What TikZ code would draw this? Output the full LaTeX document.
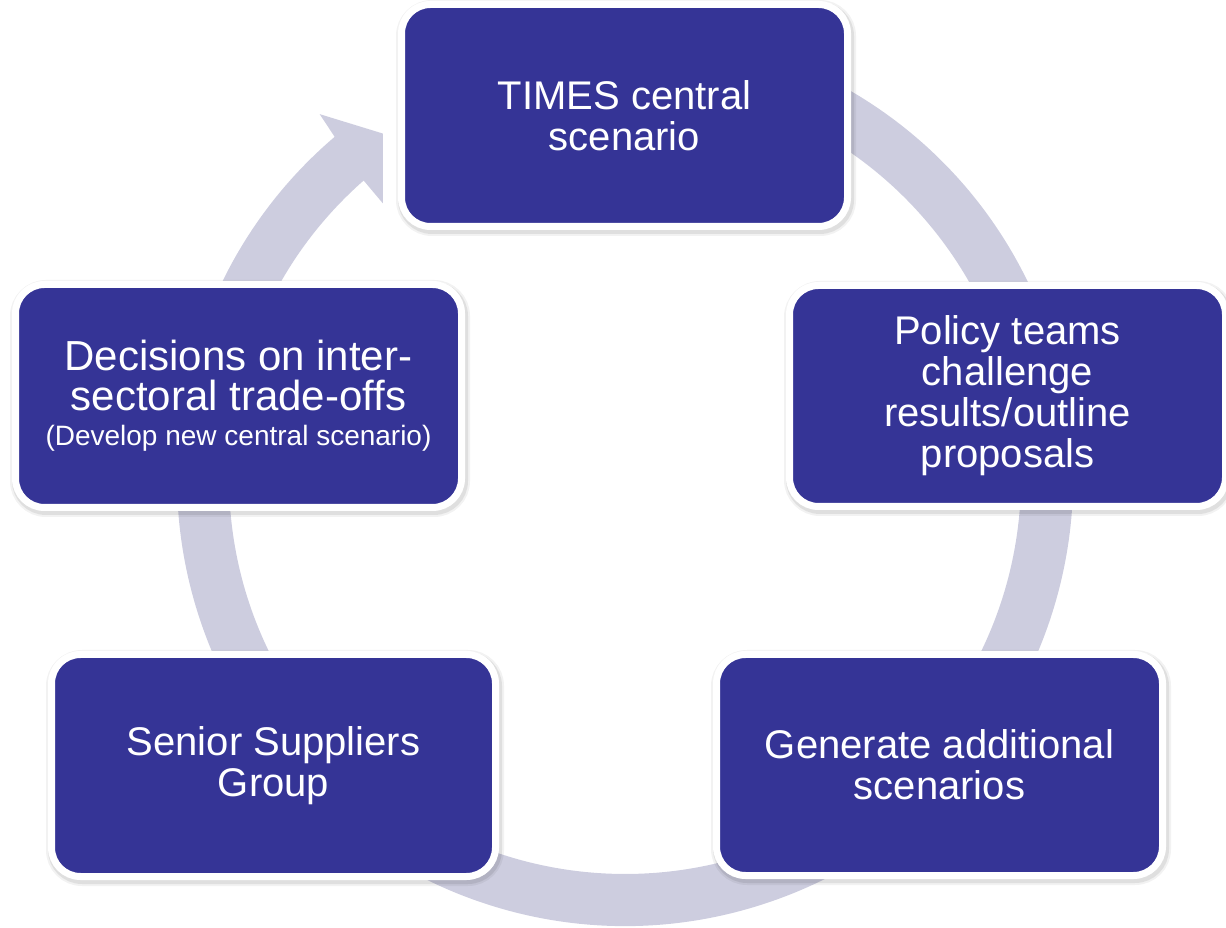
\documentclass[tikz,border=0pt]{standalone}
\usepackage{fontspec}
\setmainfont{Liberation Sans}
\usetikzlibrary{calc}
\definecolor{boxblue}{RGB}{53,52,150}
\definecolor{ringcol}{RGB}{205,205,223}
\begin{document}
\begin{tikzpicture}[x=1pt,y=1pt,
  stagebox/.style={draw=white, line width=7pt, fill=boxblue, rounded corners=29pt,
    text=white, align=center, font=\fontsize{40}{41}\selectfont, inner sep=0pt,
    preaction={draw=black, opacity=0.05, line width=14pt, transform canvas={shift={(1.5pt,-2.5pt)}}},
    preaction={draw=black, opacity=0.08, line width=10pt, transform canvas={shift={(1.5pt,-2.5pt)}}}}]
\useasboundingbox (0,0) rectangle (1226,927);
% circular arrow
\coordinate (C) at (625,449);
\fill[ringcol] ($(C)+(110:448)$) arc[start angle=110,end angle=-229.6,radius=448]
  -- ($(C)+(130:475)$) -- ($(C)+(125.1:421)$) -- ($(C)+(131.4:366)$)
  -- ($(C)+(131.3:396)$) arc[start angle=-228.7,end angle=110,radius=396] -- cycle;
% stages
\node[stagebox, minimum width=446pt, minimum height=222pt] (times) at (624.5,811.5) {TIMES central\\scenario};
\node[stagebox, minimum width=436pt, minimum height=221pt] (policy) at (1007.5,531) {Policy teams\\challenge\\results/outline\\proposals};
\node[stagebox, minimum width=446pt, minimum height=221pt] (generate) at (939.5,162) {Generate additional\\scenarios};
\node[stagebox, minimum width=444pt, minimum height=222pt] (senior) at (273.5,161.5) {Senior Suppliers\\Group};
\node[stagebox, font=\fontsize{42}{40}\selectfont, minimum width=446pt, minimum height=223pt] (decisions) at (238.5,531) {Decisions on inter-\\sectoral trade-offs\\[-5pt]{\fontsize{28}{35}\selectfont (Develop new central scenario)}};
\end{tikzpicture}
\end{document}
